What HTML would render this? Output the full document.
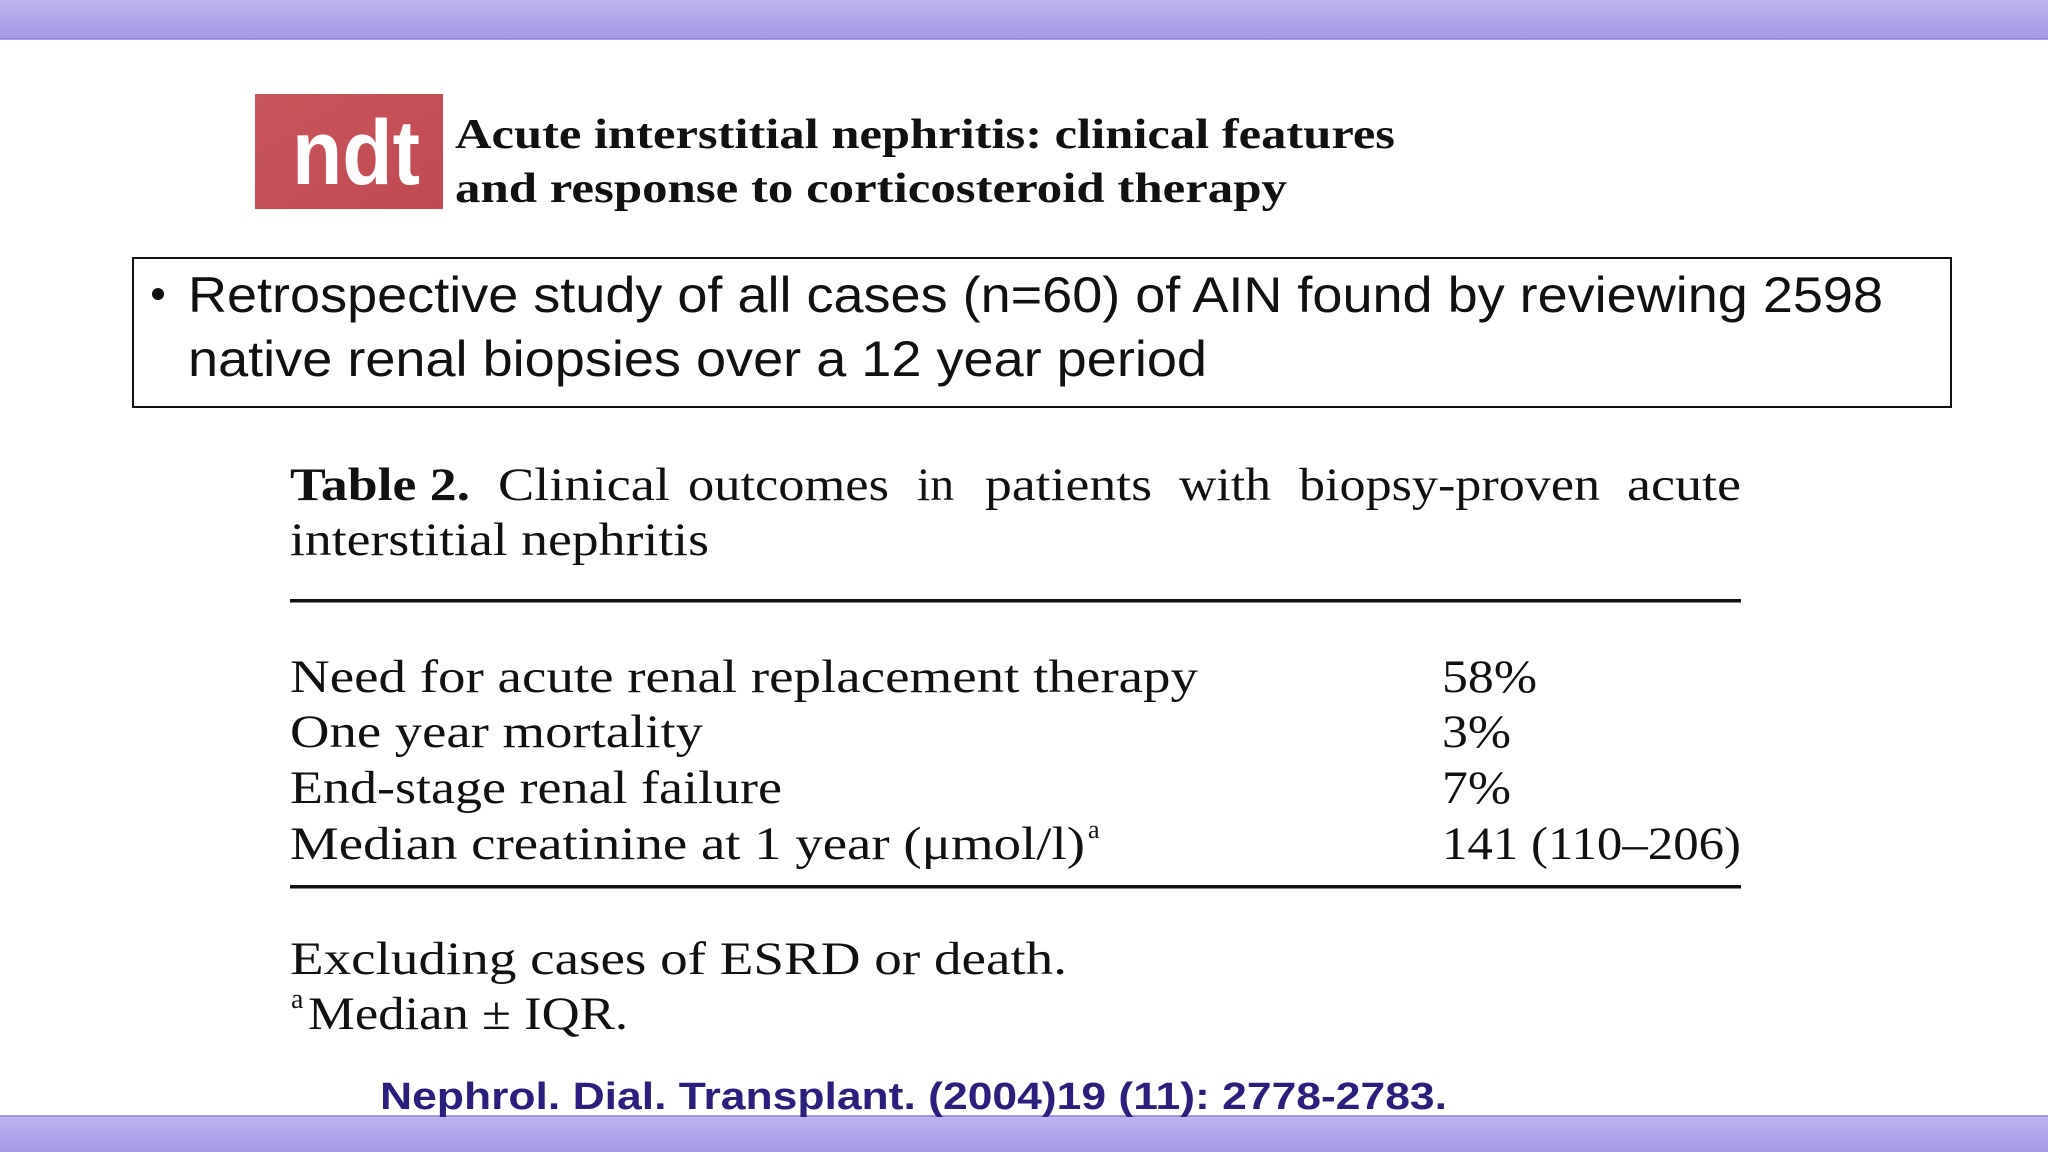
<!DOCTYPE html>
<html><head><meta charset="utf-8"><style>
html,body{margin:0;padding:0;background:#fff;}
svg{display:block;}
.serif{font-family:"Liberation Serif",serif;fill:#111;}
</style></head><body>
<svg width="2048" height="1152" viewBox="0 0 2048 1152" xmlns="http://www.w3.org/2000/svg">
<defs>
<linearGradient id="bar" x1="0" y1="0" x2="0" y2="1"><stop offset="0" stop-color="#bdb4ee"/><stop offset="1" stop-color="#a598e6"/></linearGradient>
<linearGradient id="logo" x1="0" y1="0" x2="1" y2="1"><stop offset="0" stop-color="#c9555c"/><stop offset="1" stop-color="#c04a52"/></linearGradient>
</defs>
<rect x="0" y="0" width="2048" height="39" fill="url(#bar)"/>
<line x1="0" y1="39" x2="2048" y2="39" stroke="#8a7ed8" stroke-width="1.5"/>
<rect x="0" y="1116" width="2048" height="36" fill="url(#bar)"/>
<line x1="0" y1="1116" x2="2048" y2="1116" stroke="#8a7ed8" stroke-width="1.5"/>

<g>
<rect x="255" y="94" width="188" height="115" fill="url(#logo)"/>
<text x="292" y="184" font-family="Liberation Sans Narrow, Liberation Sans, sans-serif" font-weight="bold" font-size="92" fill="#fff" textLength="128" lengthAdjust="spacingAndGlyphs">ndt</text>
</g>
<g font-family="Liberation Serif, serif" font-weight="bold" font-size="42" fill="#111">
<text x="455" y="148" textLength="940" lengthAdjust="spacingAndGlyphs">Acute interstitial nephritis: clinical features</text>
<text x="455" y="202" textLength="832" lengthAdjust="spacingAndGlyphs">and response to corticosteroid therapy</text>
</g>

<g>
<rect x="133" y="258" width="1818" height="149" fill="#fff" stroke="#111" stroke-width="2"/>
<circle cx="158" cy="294" r="6" fill="#111"/>
<g font-family="Liberation Sans, sans-serif" font-size="50" fill="#111">
<text x="188" y="312" textLength="1695" lengthAdjust="spacingAndGlyphs">Retrospective study of all cases (n=60) of AIN found by reviewing 2598</text>
<text x="188" y="376" textLength="1019" lengthAdjust="spacingAndGlyphs">native renal biopsies over a 12 year period</text>
</g>
</g>

<g class="serif" font-size="47">
<g>
<text x="290" y="500" font-weight="bold" textLength="180" lengthAdjust="spacingAndGlyphs">Table 2.</text>
<text x="498" y="500" textLength="172" lengthAdjust="spacingAndGlyphs">Clinical</text>
<text x="688" y="500" textLength="201" lengthAdjust="spacingAndGlyphs">outcomes</text>
<text x="917" y="500" textLength="37" lengthAdjust="spacingAndGlyphs">in</text>
<text x="985" y="500" textLength="167" lengthAdjust="spacingAndGlyphs">patients</text>
<text x="1179" y="500" textLength="92" lengthAdjust="spacingAndGlyphs">with</text>
<text x="1299" y="500" textLength="301" lengthAdjust="spacingAndGlyphs">biopsy-proven</text>
<text x="1627" y="500" textLength="114" lengthAdjust="spacingAndGlyphs">acute</text>
</g>
<text x="290" y="555" textLength="419" lengthAdjust="spacingAndGlyphs">interstitial nephritis</text>
<rect x="290" y="599" width="1451" height="3.5" fill="#111"/>
<text x="290" y="692" textLength="908" lengthAdjust="spacingAndGlyphs">Need for acute renal replacement therapy</text>
<text x="290" y="747" textLength="413" lengthAdjust="spacingAndGlyphs">One year mortality</text>
<text x="290" y="803" textLength="492" lengthAdjust="spacingAndGlyphs">End-stage renal failure</text>
<text x="290" y="859" textLength="795" lengthAdjust="spacingAndGlyphs">Median creatinine at 1 year (μmol/l)</text>
<text x="1088" y="838" font-size="26">a</text>
<text x="1442" y="692" textLength="95" lengthAdjust="spacingAndGlyphs">58%</text>
<text x="1442" y="747" textLength="69" lengthAdjust="spacingAndGlyphs">3%</text>
<text x="1442" y="803" textLength="69" lengthAdjust="spacingAndGlyphs">7%</text>
<text x="1442" y="859" textLength="299" lengthAdjust="spacingAndGlyphs">141 (110–206)</text>
<rect x="290" y="885" width="1451" height="3.5" fill="#111"/>
<text x="290" y="974" textLength="777" lengthAdjust="spacingAndGlyphs">Excluding cases of ESRD or death.</text>
<text x="291" y="1008" font-size="28">a</text>
<text x="308" y="1029" textLength="320" lengthAdjust="spacingAndGlyphs">Median ± IQR.</text>
</g>

<text x="380" y="1109" font-family="Liberation Sans, sans-serif" font-weight="bold" font-size="38" fill="#2b1f7e" textLength="1067" lengthAdjust="spacingAndGlyphs">Nephrol. Dial. Transplant. (2004)19 (11): 2778-2783.</text>
</svg>
</body></html>
